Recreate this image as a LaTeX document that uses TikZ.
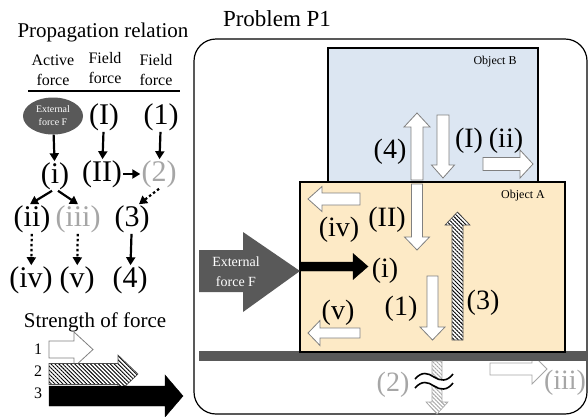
\documentclass[tikz,border=0pt]{standalone}
\usepackage{fontspec}
\setmainfont{Liberation Serif}
\usetikzlibrary{arrows.meta,patterns.meta,shapes.geometric}
\definecolor{objA}{HTML}{FDEAC6}
\definecolor{objB}{HTML}{DCE6F2}
\definecolor{dgray}{HTML}{595959}
\definecolor{lgray}{HTML}{A6A6A6}
\newcommand\fs[2]{\fontsize{#1}{#2}\selectfont}
% block arrows: [style]{start}{tip}{across}{half shaft}{half head}{head length}
\newcommand\harrow[7][]{\pgfmathsetmacro\hb{#3-sign(#3-#2)*#7}%
 \draw[#1](#2,#4-#5)--(\hb,#4-#5)--(\hb,#4-#6)--(#3,#4)--(\hb,#4+#6)--(\hb,#4+#5)--(#2,#4+#5)--cycle;}
\newcommand\varrow[7][]{\pgfmathsetmacro\hb{#3-sign(#3-#2)*#7}%
 \draw[#1](#4-#5,#2)--(#4-#5,\hb)--(#4-#6,\hb)--(#4,#3)--(#4+#6,\hb)--(#4+#5,\hb)--(#4+#5,#2)--cycle;}
\tikzset{lb/.style={font=\fs{30}{30},inner sep=1pt},glb/.style={lb,text=lgray},
 rl/.style={font=\fs{28}{28},inner sep=0pt},grl/.style={rl,text=lgray},
 hd/.style={font=\fs{16}{20},align=center,inner sep=0pt},
 ext/.style={ellipse,fill=dgray,text=white,minimum width=60pt,minimum height=37pt,inner sep=0pt,align=center,font=\fs{10}{13}},
 cn/.style={-{Triangle[length=8pt,width=9pt]},line width=2.2pt},
 dn/.style={cn,dash pattern=on 2.5pt off 2.5pt},
 wa/.style={draw=gray,fill=white,line width=0.8pt},
 ga/.style={draw=lgray,fill=white,line width=0.8pt},
 ha/.style={draw=black!70,line width=0.6pt,preaction={fill=white},pattern={Lines[angle=-45,distance=2.8pt,line width=0.9pt]}},
 gh/.style={draw=lgray,line width=0.6pt,preaction={fill=white},pattern color=lgray,pattern={Lines[angle=-45,distance=2.8pt,line width=0.9pt]}}}
\begin{document}
\begin{tikzpicture}[x=1pt,y=-1pt]
\useasboundingbox (0,0) rectangle (588,416);
% propagation relation
\node[font=\fs{21}{21}](ttl)at(103,32){Propagation relation};
\node[hd](h1)at(53,70){Active\\force};\node[hd](h2)at(105,68){Field\\force};\node[hd](h3)at(156,70){Field\\force};
\draw[line width=1.6pt](28,91)--(180,91);
\node[ext](ef)at(53,116){External\\force F};
\node[lb](I)at(104,117){(I)};\node[lb](o1)at(161,117){(1)};
\node[lb](i)at(55,176){(i)};\node[lb](II)at(102,174){(II)};\node[glb](o2)at(159,174){(2)};
\node[lb](ii)at(32,219){(ii)};\node[glb](iii)at(78,219){(iii)};\node[lb](o3)at(132,219){(3)};
\node[lb](iv)at(31,280){(iv)};\node[lb](v)at(77,280){(v)};\node[lb](o4)at(130,280){(4)};
\draw[cn](ef)--(i);\draw[cn](I)--(II);\draw[cn](o1)--(o2);\draw[cn](II)--(o2);
\draw[cn]([xshift=-3pt]i.south)--([xshift=-2pt]ii.north);\draw[cn]([xshift=3pt]i.south)--(iii.north);
\draw[dn](o2.south)--([xshift=7pt]o3.north);
\draw[dn](ii)--(iv);\draw[dn](iii)--(v);\draw[cn](o3)--(o4);
% strength of force
\node[font=\fs{21}{21}](sof)at(95,322){Strength of force};
\foreach \n/\y in {1/349,2/371,3/393}{\node[font=\fs{16}{16},inner sep=0pt](k\n)at(38,\y){\n};}
\harrow[wa]{49}{93}{349.5}{8.5}{17.5}{19}
\harrow[ha]{49}{138}{374}{10.5}{19}{20}
\harrow[fill=black]{49}{183}{396}{10}{21}{18}
% problem P1
\node[font=\fs{23}{23}](pb)at(277,19){Problem P1};
\draw[line width=1.2pt,rounded corners=22pt](194,39)rectangle(587,414);
\harrow[ga]{490}{547}{369}{6}{15}{15}
\fill[dgray](199,351)rectangle(588,361);
\draw[line width=2.5pt,fill=objB](328,48)rectangle(538,182);
\draw[line width=2.5pt,fill=objA](300,182)rectangle(565,352);
\node[font=\fs{12}{12}](ob)at(495,62){Object B};
\node[font=\fs{12}{12}](oa)at(523,196){Object A};
\fill[dgray](199,250)--(243,250)--(243,232)--(300,271)--(243,312)--(243,292)--(199,292)--cycle;
\node[font=\fs{14}{20},text=white,align=center](ex)at(236,272){External\\force F};
\harrow[fill=black]{300}{368}{266.5}{4.5}{13}{15}
\varrow[wa]{180}{113}{417}{6}{13}{14}
\varrow[wa]{115}{178}{443}{6}{11.5}{13}
\harrow[wa]{483}{533}{164}{6.5}{14}{13}
\harrow[wa]{360}{308}{199}{6}{12.5}{14}
\varrow[wa]{184}{250}{417}{5.5}{12.5}{13}
\varrow[wa]{276}{340}{432.5}{5.5}{12.5}{13}
\varrow[ha]{340}{212}{457.5}{5.5}{12.5}{13}
\harrow[wa]{360}{308}{333}{5}{12.5}{12}
\varrow[gh]{361}{414}{437}{5}{11}{12}
\fill[white](415,379)..controls(422,371)and(428,373)..(434,377)..controls(440,381)and(447,382)..(453,374)
 --(453,383)..controls(447,391)and(440,390)..(434,386)..controls(428,382)and(422,380)..(415,388)--cycle;
\draw[line width=1.6pt](415,379)..controls(422,371)and(428,373)..(434,377)..controls(440,381)and(447,382)..(453,374);
\draw[line width=1.6pt](415,388)..controls(422,380)and(428,382)..(434,386)..controls(440,390)and(447,391)..(453,383);
\node[rl](l4)at(390,152){(4)};\node[rl](lI)at(469,141){(I)};\node[rl](lii)at(506,141){(ii)};
\node[rl](liv)at(339,230){(iv)};\node[rl](lII)at(387,220){(II)};\node[rl](li)at(385,271){(i)};
\node[rl](lv)at(338,313){(v)};\node[rl](l1)at(401,309){(1)};\node[rl](l3)at(483,303){(3)};
\node[grl](l2)at(393,385){(2)};\node[grl](liii)at(565,383){(iii)};
\end{tikzpicture}
\end{document}
